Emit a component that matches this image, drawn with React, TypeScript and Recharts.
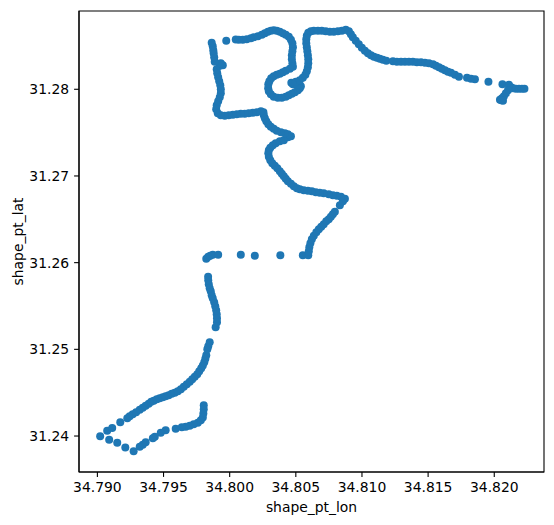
import { ReferenceArea, Scatter, ScatterChart, XAxis, YAxis } from "recharts";

// shape points, grouped by stretch of the route
const southLon = [
  34.79804, 34.79804, 34.79801, 34.79797, 34.79782, 34.79759, 34.79728, 34.79698, 34.79668, 34.79638,
  34.79592, 34.79516, 34.79479, 34.79434, 34.79419, 34.79365, 34.79343, 34.7932, 34.79274, 34.79211,
  34.7915, 34.79089, 34.79021, 34.79074, 34.79112, 34.79173, 34.79226, 34.79244, 34.79267, 34.79293,
  34.7932, 34.79343, 34.79365, 34.79388, 34.79407, 34.79426, 34.79449, 34.79471, 34.79494, 34.79516,
  34.79539, 34.79562, 34.79585, 34.79608, 34.79631, 34.79653, 34.79676, 34.79698, 34.79717, 34.79736,
  34.79755, 34.7977, 34.79785, 34.79797, 34.79808, 34.79816, 34.79823, 34.79831, 34.79838, 34.79849,
];
const southLat = [
  31.24354, 31.24308, 31.24261, 31.24215, 31.24181, 31.24152, 31.24135, 31.24118, 31.24106, 31.241,
  31.24083, 31.24066, 31.24037, 31.23991, 31.23974, 31.23927, 31.23898, 31.23875, 31.23824, 31.23869,
  31.23921, 31.23956, 31.23997, 31.2406, 31.24094, 31.24158, 31.24204, 31.24227, 31.2425, 31.24273,
  31.24302, 31.24326, 31.24349, 31.24372, 31.24395, 31.24406, 31.24423, 31.24435, 31.24446, 31.24458,
  31.24469, 31.24487, 31.24498, 31.24516, 31.24539, 31.24568, 31.24597, 31.24626, 31.24654, 31.24683,
  31.24712, 31.24747, 31.24781, 31.24815, 31.2485, 31.24891, 31.24931, 31.25, 31.25035, 31.25081,
];

const riseLon = [
  34.79894, 34.79904, 34.79904, 34.79902, 34.79898, 34.79891, 34.79883, 34.79872, 34.79864, 34.79857,
  34.79849, 34.79842, 34.79838, 34.79837, 34.79823, 34.79838, 34.79853, 34.79872, 34.79913, 34.80084,
  34.8019, 34.80383, 34.80553, 34.80594, 34.80598, 34.80602, 34.8061, 34.80621, 34.80636, 34.80655,
  34.80674, 34.80692, 34.80711, 34.8073, 34.80749, 34.80765, 34.8078, 34.80795, 34.80833, 34.80856,
  34.80871,
];
const riseLat = [
  31.25254, 31.25312, 31.25358, 31.25404, 31.2545, 31.25497, 31.25543, 31.25589, 31.25623, 31.2567,
  31.25704, 31.2575, 31.25796, 31.25837, 31.26046, 31.26067, 31.26081, 31.2609, 31.26092, 31.26092,
  31.26079, 31.26084, 31.26084, 31.26084, 31.26131, 31.26177, 31.26223, 31.26269, 31.2631, 31.2635,
  31.26385, 31.26414, 31.26443, 31.26477, 31.265, 31.26529, 31.26558, 31.26587, 31.26661, 31.26708,
  31.26737,
];

const middleLon = [
  34.80841, 34.8081, 34.8078, 34.80749, 34.80711, 34.80681, 34.80651, 34.80621, 34.80591, 34.8056,
  34.8053, 34.80508, 34.80485, 34.80463, 34.8044, 34.80424, 34.80409, 34.80394, 34.80379, 34.8036,
  34.80341, 34.80322, 34.80307, 34.80296, 34.80292, 34.80296, 34.80307, 34.80326, 34.80348, 34.80379,
  34.80409, 34.8044, 34.80463, 34.8044, 34.80417, 34.80387, 34.80356, 34.80333, 34.80311, 34.80292,
  34.80277, 34.80266, 34.80258, 34.80255, 34.80236, 34.80205, 34.80175, 34.80144, 34.80114, 34.80084,
  34.80054, 34.80024, 34.79993, 34.79963, 34.79933, 34.7991,
];
const middleLat = [
  31.2676, 31.26772, 31.26777, 31.26789, 31.268, 31.26806, 31.26812, 31.26824, 31.26829, 31.26835,
  31.26846, 31.26858, 31.26881, 31.2691, 31.26939, 31.26967, 31.26996, 31.27025, 31.27054, 31.27089,
  31.27118, 31.27146, 31.27181, 31.27221, 31.27261, 31.27296, 31.27325, 31.27354, 31.27377, 31.274,
  31.27412, 31.27446, 31.27458, 31.27481, 31.27492, 31.27504, 31.27521, 31.27544, 31.27567, 31.27596,
  31.27631, 31.27666, 31.277, 31.27735, 31.27747, 31.27735, 31.27729, 31.27723, 31.27718, 31.27718,
  31.27712, 31.27706, 31.277, 31.27695, 31.277, 31.27723,
];

const westLon = [
  34.79898, 34.79902, 34.79913, 34.79925, 34.79933, 34.79933, 34.79929, 34.79921, 34.79913, 34.79906,
  34.79902, 34.79925, 34.79948, 34.79933, 34.79887, 34.79883, 34.79879, 34.79876, 34.79872, 34.79864,
];
const westLat = [
  31.27769, 31.27815, 31.27862, 31.27907, 31.27953, 31.28, 31.28046, 31.28093, 31.28138, 31.28184,
  31.28231, 31.28272, 31.28277, 31.283, 31.28318, 31.28369, 31.28415, 31.2845, 31.28496, 31.28536,
];

const loopLon = [
  34.79974, 34.80046, 34.80069, 34.80099, 34.80129, 34.8016, 34.80182, 34.80213, 34.80243, 34.80266,
  34.80289, 34.80311, 34.80333, 34.80356, 34.80379, 34.80402, 34.80424, 34.80447, 34.80463, 34.80474,
  34.80478, 34.80474, 34.8047, 34.8047, 34.80474, 34.80478, 34.80455, 34.80424, 34.80402, 34.80379,
  34.80356, 34.80333, 34.80314, 34.803, 34.80292, 34.80291, 34.80296, 34.80311, 34.80333, 34.80364,
  34.80394, 34.80424, 34.80447, 34.8047, 34.80493, 34.80516, 34.8053, 34.80538, 34.80508, 34.80478,
  34.80466, 34.805, 34.8053, 34.80553, 34.80572, 34.80583, 34.80591, 34.80594, 34.80594, 34.80591,
  34.80587, 34.80583, 34.80579, 34.80579, 34.80583, 34.80594,
];
const loopLat = [
  31.28559, 31.28574, 31.28571, 31.28571, 31.28577, 31.28589, 31.286, 31.28612, 31.28629, 31.28646,
  31.28664, 31.28675, 31.28681, 31.28675, 31.28664, 31.28646, 31.28629, 31.28606, 31.28571, 31.2853,
  31.28484, 31.28439, 31.28392, 31.28346, 31.283, 31.2826, 31.28237, 31.28213, 31.28196, 31.28179,
  31.28167, 31.2815, 31.28127, 31.28093, 31.28058, 31.28012, 31.27977, 31.27942, 31.27913, 31.27902,
  31.27902, 31.27913, 31.2793, 31.27948, 31.27965, 31.27988, 31.28012, 31.28035, 31.28052, 31.28058,
  31.28075, 31.28087, 31.28104, 31.28132, 31.28167, 31.28207, 31.28254, 31.283, 31.28346, 31.28392,
  31.28439, 31.28484, 31.2853, 31.28577, 31.28618, 31.28652,
];

const eastLon = [
  34.80614, 34.80636, 34.80667, 34.80696, 34.80726, 34.80757, 34.80787, 34.80818, 34.80848, 34.80878,
  34.80901, 34.80916, 34.80931, 34.80953, 34.80976, 34.80999, 34.81022, 34.81045, 34.81068, 34.8109,
  34.81113, 34.81135, 34.81158, 34.81184, 34.81234, 34.81264, 34.81295, 34.81325, 34.81355, 34.81385,
  34.81415, 34.81446, 34.81476, 34.81506, 34.81537, 34.81559, 34.81582, 34.81604, 34.81627, 34.8165,
  34.81673, 34.81703, 34.81733, 34.81794, 34.81824, 34.81854, 34.81956, 34.82062, 34.82111, 34.82127,
  34.82142, 34.82164, 34.82187, 34.82209, 34.82228, 34.82104, 34.82088, 34.82073, 34.82058, 34.82043,
  34.82066, 34.82054,
];
const eastLat = [
  31.2867, 31.28675, 31.28675, 31.28675, 31.2867, 31.28664, 31.28664, 31.2867, 31.28675, 31.28687,
  31.2867, 31.28635, 31.286, 31.28559, 31.28519, 31.28479, 31.28444, 31.28415, 31.28392, 31.28375,
  31.28364, 31.28352, 31.28341, 31.28329, 31.28324, 31.28318, 31.28318, 31.28318, 31.28318, 31.28318,
  31.28312, 31.28312, 31.28306, 31.283, 31.28289, 31.28272, 31.28254, 31.28237, 31.28219, 31.28202,
  31.2819, 31.28167, 31.28144, 31.28133, 31.28121, 31.28115, 31.28087, 31.28058, 31.28052, 31.28023,
  31.28012, 31.28006, 31.28006, 31.28006, 31.28006, 31.27988, 31.27953, 31.27919, 31.27896, 31.27878,
  31.27867, 31.27873,
];

const lonTicks = [34.79, 34.795, 34.8, 34.805, 34.81, 34.815, 34.82];
const latTicks = [31.24, 31.25, 31.26, 31.27, 31.28];
const lonDomain = [34.78861, 34.82376];
const latDomain = [31.23585, 31.28903];

const segments = [
  [southLon, southLat],
  [riseLon, riseLat],
  [middleLon, middleLat],
  [westLon, westLat],
  [loopLon, loopLat],
  [eastLon, eastLat],
];

const points = segments.flatMap(([lon, lat]) =>
  lon.map((x, i) => ({ shape_pt_lon: x, shape_pt_lat: lat[i] })),
);

const FONT = "DejaVu Sans, sans-serif";
const BLUE = "#1f77b4";

function Dot(props: any) {
  return <circle cx={props.cx} cy={props.cy} r={4} fill={BLUE} />;
}

function XLabel({ viewBox }: any) {
  const cx = viewBox.x + viewBox.width / 2;
  return (
    <text x={cx} y={512} textAnchor="middle" fontFamily={FONT} fontSize={13.9} fill="#000">
      shape_pt_lon
    </text>
  );
}

function YLabel({ viewBox }: any) {
  const cx = 18;
  const cy = viewBox.y + viewBox.height / 2;
  return (
    <text
      x={cx}
      y={cy}
      transform={`rotate(-90 ${cx} ${cy})`}
      textAnchor="middle"
      dominantBaseline="central"
      fontFamily={FONT}
      fontSize={13.9}
      fill="#000"
    >
      shape_pt_lat
    </text>
  );
}

export default function App() {
  return (
    <div style={{ position: "absolute", left: 0, top: 0, background: "#fff" }}>
      <ScatterChart width={554} height={525} margin={{ top: 11, right: 10, bottom: 0, left: 0 }}>
        <XAxis
          type="number"
          dataKey="shape_pt_lon"
          domain={lonDomain}
          ticks={lonTicks}
          allowDataOverflow
          height={53}
          tickSize={4.9}
          tickMargin={5}
          tickFormatter={(v: number) => v.toFixed(3)}
          stroke="#000"
          strokeWidth={1.1}
          tick={{ fill: "#000", fontSize: 13.9, fontFamily: FONT }}
          label={<XLabel />}
        />
        <YAxis
          type="number"
          dataKey="shape_pt_lat"
          domain={latDomain}
          ticks={latTicks}
          allowDataOverflow
          width={79}
          tickSize={4.9}
          tickMargin={5}
          tickFormatter={(v: number) => v.toFixed(2)}
          stroke="#000"
          strokeWidth={1.1}
          tick={{ fill: "#000", fontSize: 13.9, fontFamily: FONT }}
          label={<YLabel />}
        />
        <ReferenceArea
          x1={lonDomain[0]}
          x2={lonDomain[1]}
          y1={latDomain[0]}
          y2={latDomain[1]}
          fill="none"
          stroke="#000"
          strokeWidth={1.1}
        />
        <Scatter data={points} fill={BLUE} shape={<Dot />} isAnimationActive={false} />
      </ScatterChart>
    </div>
  );
}
